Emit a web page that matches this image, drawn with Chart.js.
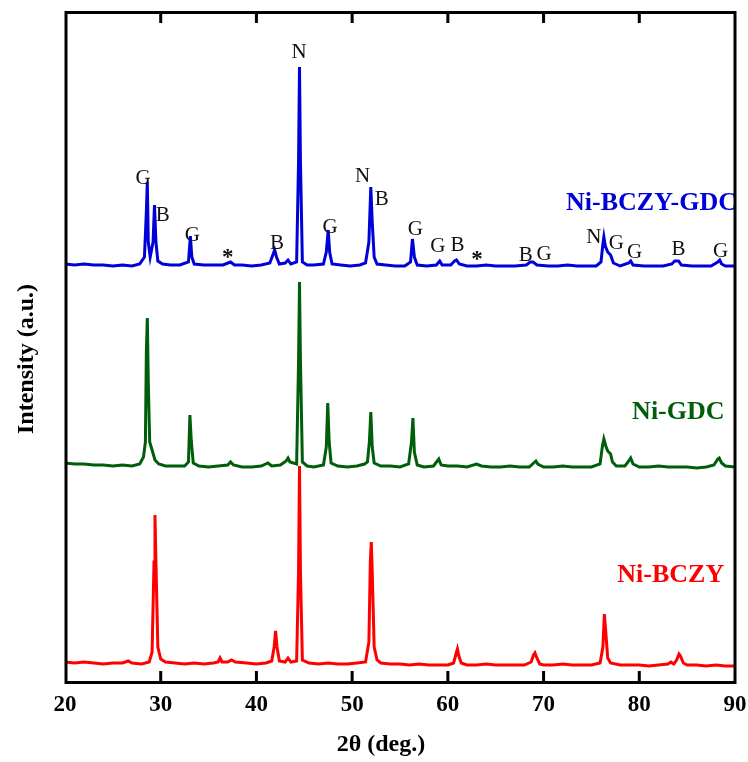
<!DOCTYPE html>
<html>
<head>
<meta charset="utf-8">
<script src="https://cdn.jsdelivr.net/npm/chart.js@4"></script>
<style>
  body { margin: 0; background: #fff; }
</style>
</head>
<body>
<canvas id="xrd" width="748" height="762"></canvas>
<script>
// 2theta range and tick values
const thetaTicks = [20, 30, 40, 50, 60, 70, 80, 90];

// XRD patterns, [2theta, intensity (a.u., stacked)]
const bczyPattern = [
  [20,20],[21,19],[22,20],[23,19],[24,18],[25,19],[26,19],[26.6,21],[27,19],[28,18],[28.8,20],[29.1,30],
  [29.3,120],[29.4,167],[29.5,120],[29.7,35],[30,23],[30.5,20],[31.5,19],[32.5,18],[33.5,19],[34.5,18],
  [35.5,19],[36,20],[36.2,24],[36.4,20],[37,20],[37.4,22],[37.8,20],[39,19],[40,18],[41,19],[41.6,21],
  [41.85,35],[42,51],[42.15,35],[42.4,21],[43,20],[43.3,24],[43.6,20],[44.2,21],[44.4,110],[44.5,216],
  [44.6,110],[44.8,22],[45.5,19],[46.5,18],[47.5,19],[48.5,18],[49.5,18],[50.5,19],[51.4,20],[51.75,40],
  [51.9,120],[52.0,140],[52.1,110],[52.3,35],[52.6,22],[53,19],[54,18],[55,18],[56,17],[57,18],[58,17],
  [59,17],[60,17],[60.6,19],[60.85,28],[61,33],[61.15,26],[61.4,19],[62,17],[63,17],[64,18],[65,17],
  [66,17],[67,17],[68,17],[68.7,20],[68.95,27],[69.1,29],[69.3,24],[69.6,18],[70,17],[71,17],[72,18],
  [73,17],[74,17],[75,17],[75.9,19],[76.2,35],[76.35,68],[76.5,50],[76.7,24],[77,19],[78,17],[79,17],
  [80,17],[81,16],[82,17],[83,18],[83.3,20],[83.6,18],[83.9,22],[84.15,28],[84.3,26],[84.6,19],[85,17],
  [86,17],[87,16],[88,17],[89,16],[90,16]
];
const gdcPattern = [
  [20,219],[21,218],[22,218],[23,217],[24,217],[25,216],[26,217],[27,216],[27.8,218],[28.2,225],[28.4,240],
  [28.5,330],[28.6,364],[28.7,300],[28.85,240],[29.1,232],[29.4,222],[29.8,218],[30.5,216],[31.5,216],
  [32.5,216],[32.9,220],[33.05,267],[33.2,240],[33.4,219],[34,216],[35,215],[36,216],[37,217],[37.3,220],
  [37.6,217],[38.5,215],[39.5,215],[40.5,216],[41.2,219],[41.6,216],[42.5,217],[43.1,221],[43.3,224],
  [43.5,220],[44.2,218],[44.4,320],[44.5,400],[44.6,320],[44.8,220],[45.3,216],[46,215],[47,217],[47.3,235],
  [47.45,279],[47.6,240],[47.8,219],[48.5,216],[49.5,215],[50.5,216],[51.3,218],[51.6,220],[51.8,240],
  [51.95,270],[52.1,235],[52.3,219],[53,216],[54,216],[55,215],[55.9,218],[56.2,240],[56.35,264],[56.5,230],
  [56.8,217],[57.5,215],[58.5,216],[59.05,223],[59.3,217],[60,216],[61,216],[62,215],[63,218],[63.5,216],
  [64.5,215],[65.5,215],[66.5,216],[67.5,215],[68.5,215],[69.2,221],[69.4,218],[70,215],[71,215],[72,216],
  [73,215],[74,215],[75,215],[75.9,218],[76.15,236],[76.3,243],[76.5,236],[76.7,231],[77,228],[77.2,220],
  [77.6,216],[78.5,216],[78.9,221],[79.1,224],[79.35,218],[80,215],[81,215],[82,216],[83,215],[84,215],
  [85,215],[86,214],[87,215],[87.8,217],[88.2,223],[88.35,224],[88.6,219],[89,216],[90,215]
];
const bczyGdcPattern = [
  [20,418],[21,417],[22,418],[23,417],[24,417],[25,416],[26,417],[27,416],[27.8,418],[28.3,425],[28.5,470],
  [28.6,500],[28.7,440],[28.9,425],[29.2,440],[29.35,477],[29.5,440],[29.7,421],[30.2,418],[31,417],[32,417],
  [32.9,420],[33.1,446],[33.25,425],[33.5,418],[34.5,417],[35.5,417],[36.5,417],[37.3,420],[37.7,417],
  [38.5,417],[39.5,416],[40.5,417],[41.4,419],[41.75,428],[41.9,432],[42.1,425],[42.4,418],[43,419],
  [43.3,422],[43.6,418],[44.2,420],[44.4,520],[44.5,615],[44.6,520],[44.8,420],[45.3,417],[46,417],[47,418],
  [47.3,430],[47.5,452],[47.65,430],[47.9,418],[48.8,417],[49.8,416],[50.8,417],[51.4,419],[51.75,440],
  [51.95,495],[52.1,460],[52.3,425],[52.6,418],[53.5,417],[54.5,416],[55.5,416],[56.1,420],[56.3,443],
  [56.5,425],[56.8,417],[57.8,416],[58.8,417],[59.15,421],[59.4,417],[60.3,417],[60.7,421],[60.9,422],
  [61.2,418],[62,416],[63,416],[64,417],[65,416],[66,416],[67,416],[68.2,417],[68.6,420],[68.9,420],
  [69.3,417],[70.5,416],[71.5,416],[72.5,417],[73.5,416],[74.5,416],[75.5,416],[76,420],[76.2,438],
  [76.3,445],[76.45,436],[76.7,430],[77,427],[77.3,419],[78,416],[78.9,419],[79.1,421],[79.35,417],
  [80.5,416],[81.5,416],[82.5,416],[83.4,418],[83.7,421],[84.1,421],[84.4,417],[85.5,416],[86.5,416],
  [87.5,416],[88.2,420],[88.4,422],[88.6,418],[89,416],[90,416]
];

// Phase marks over the Ni-BCZY-GDC pattern: G = GDC, B = BCZY, N = Ni, * = impurity
const phaseMarks = ['G', 'B', 'G', '*', 'B', 'N', 'G', 'N', 'B', 'G', 'G', 'B', '*', 'B', 'G', 'N', 'G', 'G', 'B', 'G'];
const phaseMarkTheta = [28.15, 30.2, 33.3, 37.0, 42.15, 44.45, 47.7, 51.1, 53.1, 56.6, 58.95, 61.0, 63.05, 68.15, 70.05, 75.25, 77.6, 79.5, 84.1, 88.5];
const phaseMarkLevel = [504, 467, 447, 424, 439, 630, 455, 506, 483, 453, 436, 437, 422, 427, 428, 445, 439, 430, 433, 431];

const seriesNames = ['Ni-BCZY-GDC', 'Ni-GDC', 'Ni-BCZY'];
const seriesColors = ['#0000d8', '#005e0a', '#ff0000'];

const SERIF = '"Liberation Serif", "Times New Roman", serif';

function toXY(points) {
  return points.map(p => ({ x: p[0], y: p[1] }));
}

// draws frame, inward ticks, texts
const decorPlugin = {
  id: 'decor',
  afterDatasetsDraw(chart) {
    const { ctx, chartArea, scales } = chart;
    const xs = scales.x, ys = scales.y;
    ctx.save();

    // phase marks
    ctx.fillStyle = '#111';
    ctx.textAlign = 'center';
    ctx.textBaseline = 'middle';
    phaseMarks.forEach((m, i) => {
      ctx.font = (m === '*' ? 'bold 23px ' : '21px ') + SERIF;
      ctx.fillText(m, xs.getPixelForValue(phaseMarkTheta[i]), ys.getPixelForValue(phaseMarkLevel[i]));
    });

    // series names
    ctx.font = 'bold 26px ' + SERIF;
    ctx.textAlign = 'left';
    const namePos = [[72.35, 479], [79.25, 270], [77.7, 107]];
    seriesNames.forEach((name, i) => {
      ctx.fillStyle = seriesColors[i];
      ctx.fillText(name, xs.getPixelForValue(namePos[i][0]), ys.getPixelForValue(namePos[i][1]));
    });

    // frame
    ctx.strokeStyle = '#000';
    ctx.lineWidth = 3;
    ctx.strokeRect(chartArea.left + 1, chartArea.top + 0.5, chartArea.right - chartArea.left - 1, chartArea.bottom - chartArea.top);

    // inward ticks top and bottom
    thetaTicks.forEach(t => {
      if (t === 20 || t === 90) return;
      const px = xs.getPixelForValue(t);
      ctx.beginPath();
      ctx.moveTo(px, chartArea.top);
      ctx.lineTo(px, chartArea.top + 11);
      ctx.moveTo(px, chartArea.bottom);
      ctx.lineTo(px, chartArea.bottom - 11);
      ctx.stroke();
    });

    // axis titles
    ctx.fillStyle = '#000';
    ctx.font = 'bold 24px ' + SERIF;
    ctx.textAlign = 'center';
    ctx.textBaseline = 'middle';
    ctx.fillText('2\u03b8 (deg.)', 381, 745);
    ctx.translate(27, 359);
    ctx.rotate(-Math.PI / 2);
    ctx.fillText('Intensity (a.u.)', 0, 0);

    ctx.restore();
  }
};

const patterns = [bczyGdcPattern, gdcPattern, bczyPattern];

new Chart(document.getElementById('xrd'), {
  type: 'scatter',
  data: {
    datasets: patterns.map((p, i) => ({
      label: seriesNames[i],
      data: toXY(p),
      showLine: true,
      borderColor: seriesColors[i],
      borderWidth: 3,
      pointRadius: 0,
      tension: 0
    }))
  },
  options: {
    responsive: false,
    animation: false,
    layout: { padding: { top: 12, right: 13, left: 0, bottom: 0 } },
    plugins: { legend: { display: false }, tooltip: { enabled: false } },
    scales: {
      x: {
        type: 'linear',
        min: 20,
        max: 90,
        afterFit: s => { s.height = 80; s.paddingLeft = 0; s.paddingRight = 0; },
        afterBuildTicks: s => { s.ticks = thetaTicks.map(v => ({ value: v })); },
        ticks: {
          color: '#000',
          padding: 9,
          maxRotation: 0,
          autoSkip: false,
          font: { family: SERIF, size: 23, weight: 'bold' }
        },
        grid: { display: false, drawTicks: false },
        border: { display: false }
      },
      y: {
        min: 0,
        max: 670,
        afterFit: s => { s.width = 65; },
        ticks: { display: false },
        grid: { display: false, drawTicks: false },
        border: { display: false }
      }
    }
  },
  plugins: [decorPlugin]
});
</script>
</body>
</html>
